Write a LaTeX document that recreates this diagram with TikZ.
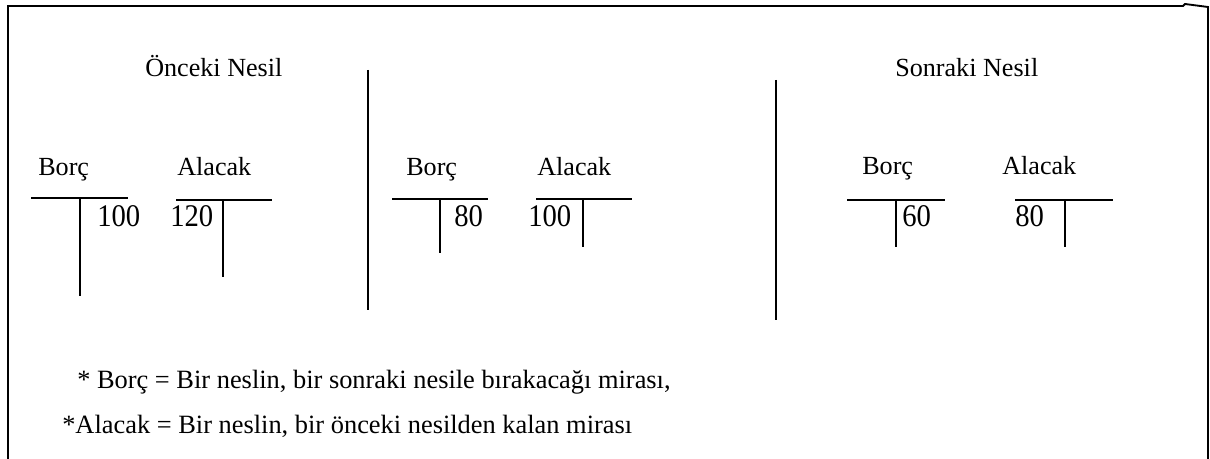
\documentclass[tikz,border=0pt]{standalone}
\usepackage{fontspec}
\usepackage{graphicx}
\setmainfont{Liberation Serif}
\newcommand{\tallnum}[1]{\scalebox{1}[1.1]{#1}}
\begin{document}
\begin{tikzpicture}[x=0.75pt,y=-0.75pt,
  rule/.style={line width=1.4pt},
  frame/.style={line width=1.4pt, line join=miter},
  lbl/.style={anchor=base west, inner sep=0pt, font=\fontsize{19.6}{22}\selectfont},
  num/.style={anchor=base west, inner sep=0pt, font=\fontsize{21.5}{24}\selectfont},
  note/.style={anchor=base west, inner sep=0pt, font=\fontsize{19.8}{22}\selectfont}]
\useasboundingbox (0,0) rectangle (1210,459);
% frame
\draw[frame] (8,462) -- (8,6) -- (1183,6) -- (1185,4) -- (1208,7) -- (1208,462);
% headings
\node[lbl] (h1) at (145,77) {Önceki Nesil};
\node[lbl] (h2) at (895,77) {Sonraki Nesil};
% dividers
\coordinate (d1t) at (368,70); \coordinate (d1b) at (368,310);
\coordinate (d2t) at (776,80); \coordinate (d2b) at (776,320);
\draw[rule] (d1t) -- (d1b);
\draw[rule] (d2t) -- (d2b);
% left group
\node[lbl] (b1) at (38,176) {Borç};
\node[lbl] (a1) at (177,176) {Alacak};
\draw[rule] (31,198) -- (128,198);
\draw[rule] (80,198) -- (80,296);
\draw[rule] (176,200) -- (272,200);
\draw[rule] (223,200) -- (223,277);
\node[num] (n1) at (97,227) {\tallnum{100}};
\node[num] (n2) at (170,227) {\tallnum{120}};
% middle group
\node[lbl] (b2) at (406,176) {Borç};
\node[lbl] (a2) at (537,176) {Alacak};
\draw[rule] (392,199) -- (488,199);
\draw[rule] (440,199) -- (440,253);
\draw[rule] (536,199) -- (632,199);
\draw[rule] (583,199) -- (583,247);
\node[num] (n3) at (454,227) {\tallnum{80}};
\node[num] (n4) at (528,227) {\tallnum{100}};
% right group
\node[lbl] (b3) at (862,175) {Borç};
\node[lbl] (a3) at (1002,175) {Alacak};
\draw[rule] (847,200) -- (945,200);
\draw[rule] (896,200) -- (896,247);
\draw[rule] (1015,200) -- (1113,200);
\draw[rule] (1065,200) -- (1065,247);
\node[num] (n5) at (902,227) {\tallnum{60}};
\node[num] (n6) at (1015,227) {\tallnum{80}};
% notes
\node[note] (t1) at (77,388) {* Borç = Bir neslin, bir sonraki nesile bırakacağı mirası,};
\node[note] (t2) at (62,433) {*Alacak = Bir neslin, bir önceki nesilden kalan mirası};
\end{tikzpicture}
\end{document}
